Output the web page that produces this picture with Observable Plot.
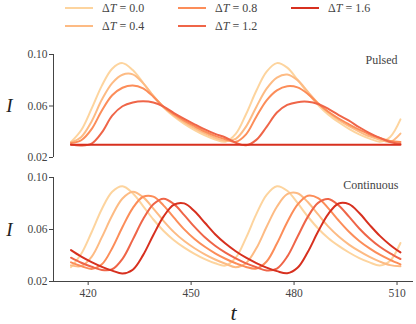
<!DOCTYPE html>
<html><head><meta charset="utf-8">
<script src="https://cdn.jsdelivr.net/npm/d3@7"></script>
<script src="https://cdn.jsdelivr.net/npm/@observablehq/plot@0.6"></script>
<style>
body{margin:0;background:#fff;font-family:"Liberation Serif",serif;}
#wrap{position:relative;width:416px;height:324px;overflow:hidden;background:#fff}
#legend{position:relative;width:416px;height:40px}
.li{position:absolute;height:14px;display:flex;align-items:center}
.sw{width:28px;height:2.5px;margin-right:9px}
.lt{font-size:12px;color:#444;white-space:nowrap}
#top,#bottom{display:block;line-height:0}
</style></head><body>
<div id="wrap"><div id="legend"></div><div id="top"></div><div id="bottom"></div></div>
<script>
// time samples
const t = [415,418,421,424,427,430,433,436,439,442,445,448,451,454,457,460,463,466,469,472,475,478,481,484,487,490,493,496,499,502,505,508,511];
const dTLabels = ["0.0","0.4","0.8","1.2","1.6"];
const colors = ["#fdd49e","#fdbb84","#fc8d59","#ef6548","#d7301f"];
const xTicks = [420,450,480,510];
const yTicks = [0.02,0.06,0.10];
const panelLabels = ["Pulsed","Continuous"];

// Pulsed panel
const pulsedDT00 = [0.032,0.0413,0.0579,0.0758,0.089,0.0933,0.0879,0.078,0.0677,0.0589,0.0518,0.0461,0.0413,0.0372,0.034,0.0323,0.0383,0.0536,0.0718,0.0867,0.0933,0.0898,0.0804,0.070,0.0608,0.0533,0.0474,0.0423,0.038,0.0347,0.0323,0.036,0.0496];
const pulsedDT04 = [0.0318,0.036,0.048,0.065,0.0778,0.0843,0.0846,0.0778,0.0678,0.0593,0.0527,0.0474,0.0428,0.0387,0.0353,0.0330,0.0345,0.044,0.0593,0.0735,0.0821,0.0845,0.0801,0.0711,0.0621,0.0549,0.0492,0.0443,0.0401,0.0364,0.0338,0.0322,0.0386];
const pulsedDT08 = [0.0312,0.0334,0.042,0.0565,0.0683,0.0742,0.076,0.0737,0.0672,0.0592,0.0536,0.0487,0.0443,0.0402,0.0368,0.0342,0.0322,0.038,0.0517,0.0644,0.0722,0.0754,0.0745,0.0694,0.0619,0.0555,0.0503,0.0458,0.0416,0.0379,0.0351,0.0329,0.032];
const pulsedDT12 = [0.0300,0.0293,0.0308,0.0395,0.0525,0.0598,0.0627,0.0636,0.0627,0.0595,0.0545,0.0500,0.0458,0.0418,0.0383,0.0355,0.0315,0.0295,0.0337,0.0438,0.0549,0.0608,0.063,0.0633,0.0616,0.0578,0.053,0.0486,0.0435,0.039,0.0352,0.032,0.0305];
const pulsedDT16 = [0.030,0.030,0.030,0.030,0.030,0.030,0.030,0.030,0.030,0.030,0.030,0.030,0.030,0.030,0.030,0.030,0.030,0.030,0.030,0.030,0.030,0.030,0.030,0.030,0.030,0.030,0.030,0.030,0.030,0.030,0.030,0.030,0.030];

// Continuous panel
const contDT00 = [0.031,0.0413,0.0579,0.0758,0.089,0.0933,0.0879,0.078,0.0677,0.0589,0.0518,0.0461,0.0413,0.0372,0.034,0.0323,0.0383,0.0536,0.0718,0.0867,0.0933,0.0898,0.0804,0.070,0.0608,0.0533,0.0474,0.0423,0.038,0.0347,0.0323,0.036,0.0496];
const contDT04 = [0.0324,0.0319,0.039,0.0541,0.0708,0.0838,0.089,0.0849,0.0761,0.0665,0.058,0.0511,0.0456,0.0409,0.0369,0.0337,0.031,0.0341,0.0455,0.0621,0.0775,0.0872,0.0879,0.0811,0.0716,0.0622,0.0546,0.0484,0.0433,0.0389,0.0353,0.0326,0.0317];
const contDT08 = [0.0347,0.0318,0.0297,0.0332,0.0456,0.0619,0.0765,0.0852,0.0853,0.0784,0.0691,0.0601,0.0527,0.0467,0.0417,0.0375,0.034,0.0312,0.030,0.0354,0.0492,0.0656,0.0791,0.086,0.0842,0.0763,0.0669,0.0583,0.0512,0.0455,0.0406,0.0366,0.0332];
const contDT12 = [0.0383,0.0344,0.0313,0.0289,0.0294,0.0374,0.0522,0.0678,0.0794,0.0837,0.0795,0.0711,0.062,0.054,0.0475,0.0422,0.0378,0.034,0.031,0.0285,0.0299,0.0391,0.0544,0.0697,0.0805,0.0835,0.0785,0.0699,0.0608,0.0531,0.0467,0.0416,0.0373];
const contDT16 = [0.0441,0.0391,0.0349,0.0313,0.0284,0.0262,0.0291,0.0403,0.0558,0.0701,0.0791,0.0801,0.074,0.0652,0.0564,0.0492,0.0433,0.0383,0.0342,0.0307,0.028,0.0263,0.0305,0.0427,0.0584,0.0721,0.08,0.0795,0.0727,0.0636,0.0551,0.0481,0.0424];

const pulsed = [pulsedDT00,pulsedDT04,pulsedDT08,pulsedDT12,pulsedDT16];
const continuous = [contDT00,contDT04,contDT08,contDT12,contDT16];

const FONT = "'Liberation Serif', serif";
const xDomain = [409.9, 514.8];

// legend
const leg = document.getElementById("legend");
dTLabels.forEach((lab, i) => {
  const col = Math.floor(i / 2), row = i % 2;
  const d = document.createElement("div");
  d.className = "li";
  d.style.left = (65 + col * 113) + "px";
  d.style.top = (1 + row * 18) + "px";
  d.innerHTML = `<span class="sw" style="background:${colors[i]}"></span><span class="lt">\u0394<i>T</i> = ${lab}</span>`;
  leg.appendChild(d);
});

function rowsOf(series) {
  const rows = [];
  series.forEach((vals, k) => vals.forEach((v, i) => rows.push({t: t[i], I: v, dT: dTLabels[k]})));
  return rows;
}

function panel(series, label, bottom) {
  const height = bottom ? 159 : 125;
  const mt = bottom ? 12 : 14;
  const mb = bottom ? 43 : 8;
  const marks = [
    Plot.ruleX([xDomain[0]], {y1: 0.02, y2: 0.10, stroke: "#444", strokeWidth: 1}),
    Plot.axisY({ticks: yTicks, tickFormat: d3.format(".2f"), tickSize: 4, tickPadding: 2, label: null, stroke: "#444", fill: "#444"}),
    Plot.line(rowsOf(series), {x: "t", y: "I", stroke: "dT", z: "dT", strokeWidth: 2, curve: "catmull-rom"}),
    Plot.text([label], {frameAnchor: "top-right", dx: bottom ? -15 : -16, dy: bottom ? 8 : 6, lineAnchor: "middle", textAnchor: "end", fontSize: 12, fill: "#444"}),
    Plot.text(["I"], {frameAnchor: "left", dx: -44, textAnchor: "middle", lineAnchor: "middle", fontSize: 19, fontStyle: "italic", fill: "#222"})
  ];
  if (bottom) {
    marks.push(Plot.ruleY([0.02], {stroke: "#444", strokeWidth: 1}));
    marks.push(Plot.axisX({ticks: xTicks, tickSize: 4, tickPadding: 3, label: null, stroke: "#444", fill: "#444"}));
    marks.push(Plot.text(["t"], {frameAnchor: "bottom", dy: 31, textAnchor: "middle", lineAnchor: "middle", fontSize: 22, fontStyle: "italic", fill: "#222"}));
  }
  return Plot.plot({
    width: 416, height, marginLeft: 53, marginRight: 3, marginTop: mt, marginBottom: mb,
    style: {fontFamily: FONT, fontSize: "11.5px", color: "#444", background: "transparent", overflow: "visible"},
    x: {domain: xDomain, axis: bottom ? undefined : null},
    y: {domain: [0.02, 0.10]},
    color: {domain: dTLabels, range: colors},
    marks
  });
}

document.getElementById("top").appendChild(panel(pulsed, panelLabels[0], false));
document.getElementById("bottom").appendChild(panel(continuous, panelLabels[1], true));
</script>
</body></html>
